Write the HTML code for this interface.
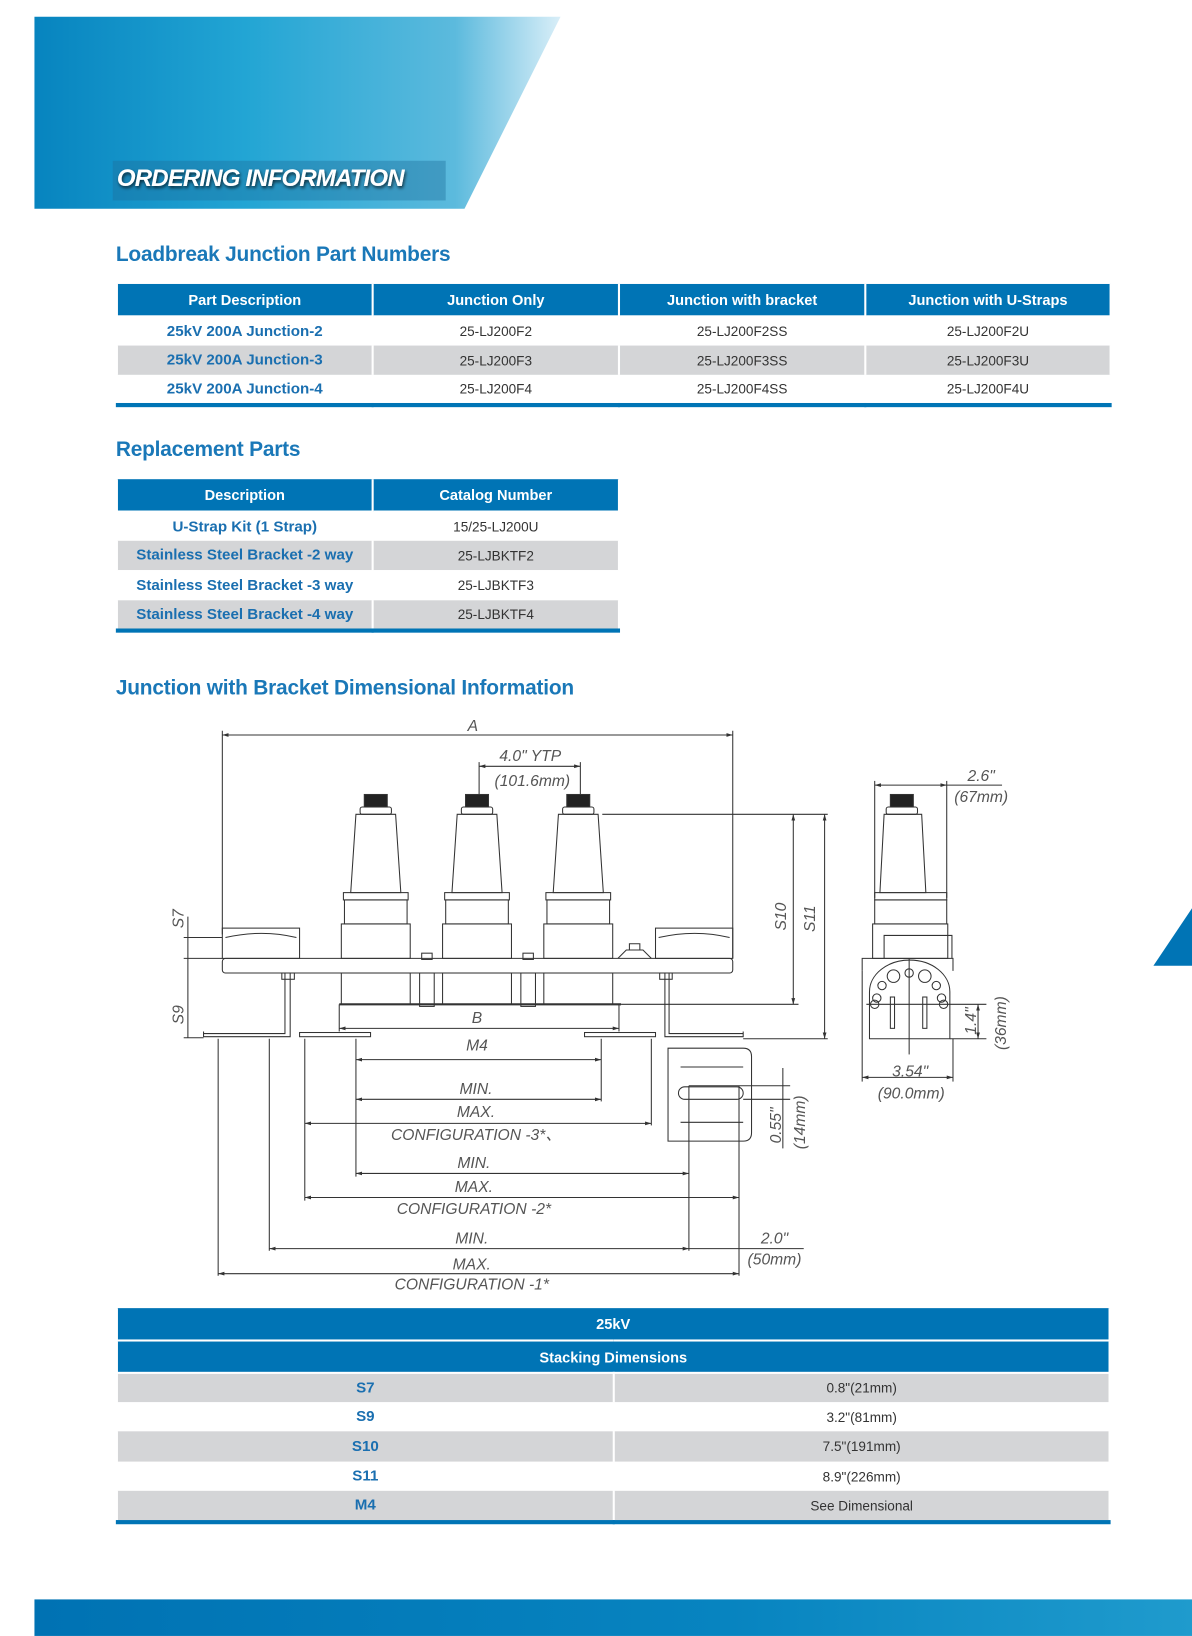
<!DOCTYPE html>
<html><head><meta charset="utf-8"><style>
html,body{margin:0;padding:0;background:#fff;overflow:hidden}
body{width:1192px;height:1636px;position:relative}
#w{position:absolute;left:0;top:0;width:1142px;height:1567px;transform:scale(1.0438,1.044);transform-origin:0 0;font-family:"Liberation Sans Narrow","Liberation Sans",sans-serif}
.h{position:absolute;left:111px;color:#1a78b8;font-family:"Liberation Sans",sans-serif;font-size:20px;font-weight:bold;letter-spacing:-0.2px}
table{position:absolute;border-collapse:collapse;font-size:13px;table-layout:fixed}
td,th{text-align:center;padding:0;border-left:2px solid #fff;border-right:2px solid #fff}
th{background:#0074b5;color:#fff;font-family:"Liberation Sans",sans-serif;font-size:14px;font-weight:bold;border-bottom:2px solid #fff}
td.b{color:#1a6fb0;font-family:"Liberation Sans",sans-serif;font-weight:bold;font-size:14.5px}
td{color:#333}
tr.g td{background:#d4d5d7}
.bl{border-bottom:4px solid #0074b5}
</style></head><body><div id="w">
<svg width="1142" height="1567" style="position:absolute;left:0;top:0">
<defs>
<linearGradient id="bg" x1="0" x2="1"><stop offset="0" stop-color="#0784bf"/><stop offset="0.4" stop-color="#22a5d4"/><stop offset="0.8" stop-color="#5cbadd"/><stop offset="1" stop-color="#d9eef8"/></linearGradient>
<linearGradient id="fg" x1="0" x2="1"><stop offset="0" stop-color="#0072b3"/><stop offset="0.6" stop-color="#0784c0"/><stop offset="1" stop-color="#1f9bcd"/></linearGradient>
<filter id="sh"><feDropShadow dx="1" dy="2" stdDeviation="1.5" flood-color="#000" flood-opacity="0.7"/></filter>
<marker id="ar" viewBox="0 0 10 10" refX="10" refY="5" markerWidth="6" markerHeight="6" orient="auto-start-reverse"><path d="M0,2 L10,5 L0,8 Z" fill="#333"/></marker>
</defs>
<polygon points="33,16 537,16 445,200 33,200" fill="url(#bg)"/>
<rect x="108" y="154" width="319" height="38" fill="#1d6f9c" opacity="0.4"/>
<text x="112" y="178" font-family="Liberation Sans" font-weight="bold" font-style="italic" font-size="23" fill="#fff" filter="url(#sh)" style="letter-spacing:-0.8px">ORDERING INFORMATION</text>
<rect x="33" y="1532" width="1109" height="35" fill="url(#fg)"/>
<polygon points="1142,870 1142,925 1105,925" fill="#0074b5"/>

<g stroke="#333" stroke-width="1" fill="none">
<line x1="213" y1="704" x2="702" y2="704" marker-start="url(#ar)" marker-end="url(#ar)"/><line x1="213" y1="700" x2="213" y2="895"/><line x1="702" y1="700" x2="702" y2="918"/>
<line x1="459" y1="734" x2="556" y2="734" marker-start="url(#ar)" marker-end="url(#ar)"/><line x1="459" y1="730" x2="459" y2="762"/><line x1="556" y1="730" x2="556" y2="762"/>
<g id="bu">
<rect x="349" y="761" width="22" height="12" fill="#222"/>
<rect x="345" y="773" width="30" height="7" rx="2"/>
<polygon points="341,780 379,780 384,855 336,855"/>
<rect x="329" y="855" width="62" height="7"/>
<rect x="330" y="862" width="60" height="23"/>
<rect x="327" y="885" width="66" height="33"/>
<rect x="327" y="932" width="66" height="30"/>
</g>
<use href="#bu" x="97"/><use href="#bu" x="194"/>
<line x1="325" y1="962" x2="595" y2="962" stroke-width="2"/>
<rect x="402" y="932" width="14" height="32"/><rect x="499" y="932" width="14" height="32"/>
<rect x="404" y="913" width="10" height="6"/><rect x="501" y="913" width="10" height="6"/>
<path d="M592,918 l8,-8 h16 l8,8 M603,910 v-6 h10 v6"/>
<rect x="213" y="918" width="489" height="14" rx="3"/>
<rect x="213" y="889" width="74" height="29"/><path d="M216,898 q35,-8 68,0"/>
<rect x="628" y="889" width="74" height="29"/><path d="M631,898 q35,-8 68,0"/>
<path d="M273,932 V990 H195 M278,932 V993 h-83 v-5"/>
<path d="M641,932 V990 H712 M637,932 V993 h75 v-5"/>
<rect x="287" y="989" width="68" height="4"/><rect x="560" y="989" width="68" height="4"/>
<rect x="270" y="932" width="12" height="6"/><rect x="632" y="932" width="12" height="6"/>
<line x1="176" y1="898" x2="213" y2="898"/><line x1="176" y1="918" x2="213" y2="918"/><line x1="176" y1="994" x2="195" y2="994"/>
<line x1="180" y1="878" x2="180" y2="994"/>
<line x1="577" y1="780" x2="793" y2="780"/><line x1="595" y1="962" x2="765" y2="962"/><line x1="712" y1="995" x2="793" y2="995"/>
<line x1="760" y1="780" x2="760" y2="962" marker-start="url(#ar)" marker-end="url(#ar)"/><line x1="790" y1="780" x2="790" y2="995" marker-start="url(#ar)" marker-end="url(#ar)"/>
<line x1="325" y1="962" x2="325" y2="988"/><line x1="593" y1="962" x2="593" y2="988"/>
<g marker-start="url(#ar)" marker-end="url(#ar)">
<line x1="325" y1="985" x2="593" y2="985"/>
<line x1="341" y1="1015" x2="576" y2="1015"/>
<line x1="341" y1="1053" x2="576" y2="1053"/>
<line x1="292" y1="1076" x2="624" y2="1076"/>
<line x1="341" y1="1124" x2="660" y2="1124"/>
<line x1="292" y1="1147" x2="708" y2="1147"/>
<line x1="258" y1="1196" x2="660" y2="1196"/>
<line x1="209" y1="1220" x2="708" y2="1220"/>
</g>
<line x1="660" y1="1196" x2="770" y2="1196"/>
<line x1="209" y1="995" x2="209" y2="1222"/><line x1="258" y1="995" x2="258" y2="1198"/>
<line x1="292" y1="995" x2="292" y2="1150"/><line x1="341" y1="995" x2="341" y2="1127"/>
<line x1="576" y1="995" x2="576" y2="1055"/><line x1="624" y1="995" x2="624" y2="1078"/>
<line x1="660" y1="1040" x2="660" y2="1198"/><line x1="708" y1="1040" x2="708" y2="1222"/>
<path d="M640,1004 H712 q8,0 8,8 V1085 q0,8 -8,8 H640 Z"/>
<path d="M652,1022 H712 M652,1075 H712"/>
<rect x="650" y="1041" width="62" height="12" rx="6"/>
<line x1="660" y1="1040" x2="757" y2="1040"/><line x1="712" y1="1053" x2="757" y2="1053"/>
<line x1="750" y1="1023" x2="750" y2="1100"/>
<rect x="853" y="761" width="22" height="12" fill="#222"/>
<rect x="849" y="773" width="30" height="7" rx="2"/>
<polygon points="847,780 883,780 887,855 843,855"/>
<rect x="838" y="855" width="69" height="7"/><rect x="838" y="862" width="69" height="23"/>
<rect x="836" y="885" width="72" height="33"/>
<path d="M847,918 V896 h65 v22"/>
<path d="M826,930 V918 H913 V930"/>
<path d="M833,995 V950 a38,30 0 0 1 77,0 V995 Z"/>
<line x1="871" y1="918" x2="871" y2="1010"/>
<circle cx="856" cy="935" r="6"/><circle cx="886" cy="935" r="6"/><circle cx="871" cy="932" r="4"/>
<circle cx="845" cy="944" r="4"/><circle cx="897" cy="944" r="4"/><circle cx="840" cy="956" r="4"/><circle cx="902" cy="956" r="4"/>
<circle cx="838" cy="962" r="4"/><circle cx="904" cy="962" r="4"/>
<rect x="853" y="955" width="4" height="30"/><rect x="884" y="955" width="4" height="30"/>
<line x1="830" y1="962" x2="945" y2="962"/><line x1="910" y1="995" x2="945" y2="995"/><line x1="937" y1="962" x2="937" y2="995" marker-start="url(#ar)" marker-end="url(#ar)"/>
<line x1="838" y1="748" x2="838" y2="860"/><line x1="907" y1="748" x2="907" y2="860"/>
<line x1="838" y1="752" x2="907" y2="752" marker-start="url(#ar)" marker-end="url(#ar)"/><line x1="907" y1="752" x2="960" y2="752"/>
<line x1="826" y1="930" x2="826" y2="1036"/><line x1="913" y1="995" x2="913" y2="1036"/>
<line x1="826" y1="1032" x2="913" y2="1032" marker-start="url(#ar)" marker-end="url(#ar)"/>
</g>
<g font-family="Liberation Sans Narrow,Liberation Sans,sans-serif" font-style="italic" font-size="15" fill="#555" text-anchor="middle">
<text x="453" y="700">A</text>
<text x="508" y="729">4.0" YTP</text><text x="510" y="753">(101.6mm)</text>
<text x="457" y="980">B</text><text x="457" y="1006">M4</text>
<text x="456" y="1048">MIN.</text><text x="456" y="1070">MAX.</text><text x="456" y="1092">CONFIGURATION -3*、</text>
<text x="454" y="1119">MIN.</text><text x="454" y="1142">MAX.</text><text x="454" y="1163">CONFIGURATION -2*</text>
<text x="452" y="1191">MIN.</text><text x="452" y="1216">MAX.</text><text x="452" y="1235">CONFIGURATION -1*</text>
<text x="742" y="1191">2.0"</text><text x="742" y="1211">(50mm)</text>
<text x="940" y="748">2.6"</text><text x="940" y="768">(67mm)</text>
<text x="872" y="1031">3.54"</text><text x="873" y="1052">(90.0mm)</text>
<text transform="translate(176,880) rotate(-90)">S7</text>
<text transform="translate(176,972) rotate(-90)">S9</text>
<text transform="translate(753,878) rotate(-90)">S10</text>
<text transform="translate(781,880) rotate(-90)">S11</text>
<text transform="translate(748,1078) rotate(-90)">0.55"</text>
<text transform="translate(771,1075) rotate(-90)">(14mm)</text>
<text transform="translate(935,978) rotate(-90)">1.4"</text>
<text transform="translate(964,980) rotate(-90)">(36mm)</text>
</g>
</svg>

<div class="h" style="top:233px">Loadbreak Junction Part Numbers</div>
<table style="left:111px;top:272px;width:952px" class="bl">
<colgroup><col style="width:245px"><col style="width:236px"><col style="width:236px"><col style="width:235px"></colgroup>
<tr style="height:31px"><th>Part Description</th><th>Junction Only</th><th>Junction with bracket</th><th>Junction with U-Straps</th></tr>
<tr style="height:28px"><td class="b">25kV 200A Junction-2</td><td>25-LJ200F2</td><td>25-LJ200F2SS</td><td>25-LJ200F2U</td></tr>
<tr style="height:28px" class="g"><td class="b">25kV 200A Junction-3</td><td>25-LJ200F3</td><td>25-LJ200F3SS</td><td>25-LJ200F3U</td></tr>
<tr style="height:29px"><td class="b">25kV 200A Junction-4</td><td>25-LJ200F4</td><td>25-LJ200F4SS</td><td>25-LJ200F4U</td></tr>
</table>

<div class="h" style="top:420px">Replacement Parts</div>
<table style="left:111px;top:459px;width:481px" class="bl">
<colgroup><col style="width:245px"><col style="width:236px"></colgroup>
<tr style="height:31px"><th>Description</th><th>Catalog Number</th></tr>
<tr style="height:28px"><td class="b">U-Strap Kit (1 Strap)</td><td>15/25-LJ200U</td></tr>
<tr style="height:28px" class="g"><td class="b">Stainless Steel Bracket -2 way</td><td>25-LJBKTF2</td></tr>
<tr style="height:29px"><td class="b">Stainless Steel Bracket -3 way</td><td>25-LJBKTF3</td></tr>
<tr style="height:29px" class="g"><td class="b">Stainless Steel Bracket -4 way</td><td>25-LJBKTF4</td></tr>
</table>

<div class="h" style="top:648px">Junction with Bracket Dimensional Information</div>
<table style="left:111px;top:1253px;width:951px" class="bl">
<colgroup><col style="width:476px"><col style="width:475px"></colgroup>
<tr style="height:31px"><th colspan="2">25kV</th></tr>
<tr style="height:31px"><th colspan="2">Stacking Dimensions</th></tr>
<tr style="height:28px" class="g"><td class="b">S7</td><td>0.8"(21mm)</td></tr>
<tr style="height:28px"><td class="b">S9</td><td>3.2"(81mm)</td></tr>
<tr style="height:29px" class="g"><td class="b">S10</td><td>7.5"(191mm)</td></tr>
<tr style="height:28px"><td class="b">S11</td><td>8.9"(226mm)</td></tr>
<tr style="height:30px" class="g"><td class="b">M4</td><td>See Dimensional</td></tr>
</table>
</div></body></html>
